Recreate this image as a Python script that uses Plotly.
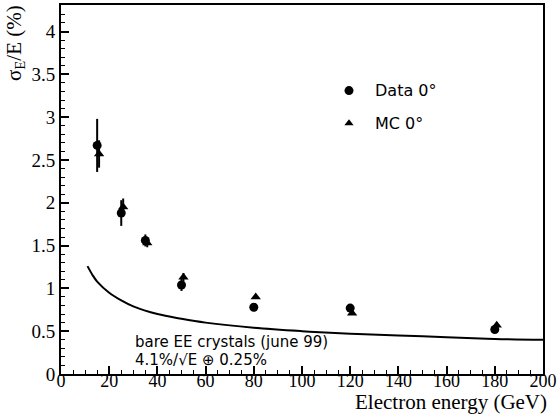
import plotly.graph_objects as go

# Data
energy_data = [15, 25, 35, 50, 80, 120, 180]
res_data = [2.67, 1.88, 1.56, 1.04, 0.78, 0.77, 0.52]
err_data = [0.31, 0.15, 0.07, 0.07, 0.03, 0.03, 0.03]

energy_mc = [15.8, 25.8, 35.8, 50.8, 80.8, 120.8, 180.8]
res_mc = [2.57, 1.95, 1.53, 1.13, 0.90, 0.71, 0.57]
err_mc = [0.16, 0.10, 0.05, 0.05, 0.02, 0.02, 0.02]

curve_e = [11, 13, 15, 20, 25, 30, 40, 50, 60, 80, 100, 120, 140, 160, 180, 200]
curve_res = [1.26, 1.16, 1.08, 0.95, 0.86, 0.79, 0.70, 0.645, 0.60, 0.54, 0.50, 0.47, 0.45, 0.43, 0.41, 0.40]

x_ticks = [0, 20, 40, 60, 80, 100, 120, 140, 160, 180, 200]
y_ticks = [0, 0.5, 1, 1.5, 2, 2.5, 3, 3.5, 4]
y_ticktext = ["0", "0.5", "1", "1.5", "2", "2.5", "3", "3.5", "4"]

legend_names = ["Data 0°", "MC 0°"]
note_lines = ["bare EE crystals (june 99)", "4.1%/√E ⊕ 0.25%"]

serif = "Liberation Serif, Times New Roman, serif"
sans = "DejaVu Sans"

fig = go.Figure()
fig.add_trace(go.Scatter(x=curve_e, y=curve_res, mode="lines",
                         line=dict(color="black", width=2, shape="spline")))
fig.add_trace(go.Scatter(x=energy_data, y=res_data, mode="markers",
                         marker=dict(symbol="circle", size=9, color="black"),
                         error_y=dict(type="data", array=err_data, color="black", thickness=2, width=0)))
fig.add_trace(go.Scatter(x=energy_mc, y=res_mc, mode="markers",
                         marker=dict(symbol="triangle-up", size=9, color="black"),
                         error_y=dict(type="data", array=err_mc, color="black", thickness=2, width=0)))

# legend drawn inside plot
fig.add_trace(go.Scatter(x=[119.5], y=[3.31], mode="markers",
                         marker=dict(symbol="circle", size=9, color="black")))
fig.add_trace(go.Scatter(x=[119.5], y=[2.93], mode="markers",
                         marker=dict(symbol="triangle-up", size=8, color="black")))
fig.add_annotation(x=129.5, y=3.31, text=legend_names[0], showarrow=False, xanchor="left", yanchor="middle",
                   font=dict(family=sans, size=16, color="black"))
fig.add_annotation(x=129.5, y=2.93, text=legend_names[1], showarrow=False, xanchor="left", yanchor="middle",
                   font=dict(family=sans, size=16, color="black"))
fig.add_annotation(x=30, y=0.37, text=note_lines[0], showarrow=False, xanchor="left",
                   yanchor="middle", font=dict(family=sans, size=15, color="black"))
fig.add_annotation(x=30, y=0.16, text=note_lines[1], showarrow=False, xanchor="left",
                   yanchor="middle", font=dict(family=sans, size=15, color="black"))

fig.add_annotation(xref="paper", yref="paper", x=1.0, xshift=6, y=-0.077, text="Electron energy (GeV)",
                   showarrow=False, xanchor="right", yanchor="middle",
                   font=dict(family=serif, size=21, color="black"))
fig.add_annotation(xref="paper", yref="paper", x=0, xshift=-46, y=0.897, text="σ<sub>E</sub>/E (%)",
                   showarrow=False, xanchor="center", yanchor="middle", textangle=-90,
                   font=dict(family=serif, size=21, color="black"))

fig.update_xaxes(range=[0, 200], tickvals=x_ticks, ticktext=[str(v) for v in x_ticks], ticks="inside", ticklen=8,
                 tickwidth=1.5, tickcolor="black", showline=True, linecolor="black", linewidth=2, mirror=True,
                 showgrid=False, zeroline=False, tickfont=dict(family=serif, size=18, color="black"),
                 ticklabelstandoff=-11,
                 minor=dict(ticks="inside", ticklen=4, dtick=5, tickcolor="black", tickwidth=1.2, showgrid=False))
fig.update_yaxes(range=[0, 4.31], tickvals=y_ticks, ticktext=y_ticktext,
                 ticks="inside", ticklen=8, tickwidth=1.5, tickcolor="black", showline=True, linecolor="black",
                 linewidth=2, mirror=True, showgrid=False, zeroline=False,
                 tickfont=dict(family=serif, size=19, color="black"),
                 minor=dict(ticks="inside", ticklen=4, dtick=0.1, tickcolor="black", tickwidth=1.2, showgrid=False))

fig.update_layout(template="none", font=dict(family=serif, color="black"),
                  width=558, height=414, margin=dict(l=61, r=15, t=5, b=40), plot_bgcolor="white",
                  paper_bgcolor="white", showlegend=False)
fig.write_html("out.html", post_script="document.body.style.margin='0';",
               config={"displayModeBar": False})
